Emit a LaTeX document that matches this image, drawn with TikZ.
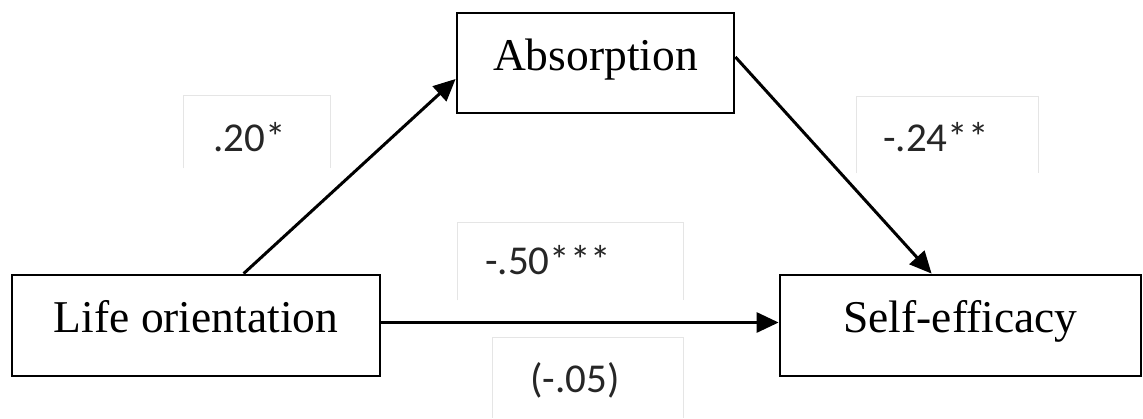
\documentclass[tikz,border=0pt]{standalone}
\usepackage{fontspec}
\setmainfont{Liberation Serif}
\newfontfamily\labelfont{Carlito}
\usetikzlibrary{arrows.meta}
\begin{document}
\begin{tikzpicture}[x=1pt,y=-1pt,
  varbox/.style={draw=black, line width=2.8pt, fill=white, inner sep=0pt,
    font=\fontsize{45.5}{54}\selectfont, text height=30pt, text depth=16pt},
  coef/.style={font=\labelfont\fontsize{41}{48}\selectfont, inner sep=0pt, text=black!85},
  faint/.style={draw=black!10, line width=1pt},
  path/.style={draw=black, line width=3pt, -{Triangle[length=22pt,width=20pt]}}
]
\useasboundingbox (0,0) rectangle (1143,418);
\fill[white] (0,0) rectangle (1143,418);

% faint label frames
\draw[faint] (183,168) -- (183,95) -- (330,95) -- (330,168);
\draw[faint] (856,173) -- (856,96) -- (1038,96) -- (1038,173);
\draw[faint] (457,300) -- (457,222) -- (683,222) -- (683,300);
\draw[faint] (492,418) -- (492,337) -- (683,337) -- (683,418);

% variable boxes
\node[varbox, minimum width=277pt, minimum height=100pt] (absorp) at (595.5,63) {Absorption};
\node[varbox, minimum width=368pt, minimum height=101pt] (life) at (196,325.5) {Life orientation};
\node[varbox, minimum width=361pt, minimum height=101pt] (self) at (960.5,325.5) {Self-efficacy};

% connectors
\draw[path] ([xshift=233pt]life.north west) -- ([yshift=-16pt]absorp.west);
\draw[path] ([yshift=6pt]absorp.east) -- ([xshift=153pt]self.north west);
\draw[path] ([yshift=3pt]life.east) -- ([yshift=3pt]self.west);

% coefficients
\node[coef, anchor=base west] (c1) at (213,151) {.20*};
\node[coef, anchor=base west] (c2) at (883,151) {-.24**};
\node[coef, anchor=base west] (c3) at (485,274) {-.50***};
\node[coef, anchor=base west] (c4) at (530,392) {(-.05)};
\end{tikzpicture}
\end{document}
